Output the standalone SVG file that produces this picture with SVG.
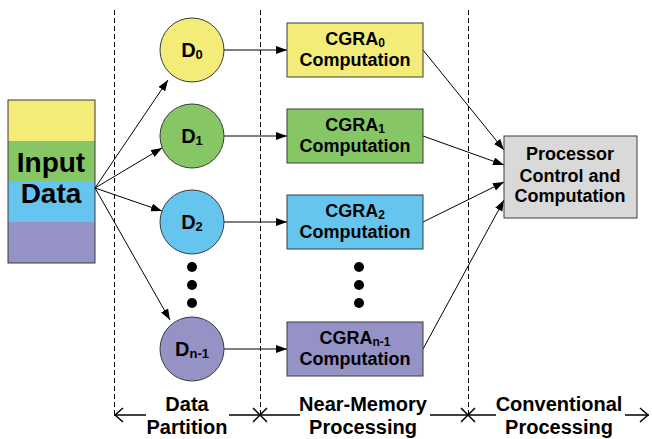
<svg xmlns="http://www.w3.org/2000/svg" width="652" height="439" viewBox="0 0 652 439">
<defs>
<style>
text{font-family:"Liberation Sans",Arial,sans-serif;font-weight:bold;fill:#000;text-anchor:middle}
.lbl{font-size:18px}
.dl{font-size:20px}
.ax{font-size:20px}
.big{font-size:28px}
.sub{font-size:12px}
.dsub{font-size:13px}
.nd{stroke:#3a3a3a;stroke-width:1}
.y{fill:#F3EC78}.g{fill:#86C665}.b{fill:#66C5EE}.p{fill:#9592C6}.gr{fill:#D9D9D9}
.con{stroke:#000;stroke-width:1;fill:none;marker-end:url(#ah)}
.dash{stroke:#000;stroke-width:1;stroke-dasharray:5 3;fill:none}
.axl{stroke:#000;stroke-width:1.5;fill:none}
</style>
<marker id="ah" markerUnits="userSpaceOnUse" markerWidth="12" markerHeight="10" refX="11" refY="4" orient="auto">
<path d="M0,0 L11,4 L0,8 Z" fill="#000"/>
</marker>
</defs>
<rect width="652" height="439" fill="#fff"/>

<g id="dividers">
<line class="dash" x1="114.5" y1="10" x2="114.5" y2="414"/>
<line class="dash" x1="260.5" y1="10" x2="260.5" y2="414"/>
<line class="dash" x1="468.5" y1="10" x2="468.5" y2="414"/>
</g>

<g id="input-data">
<rect x="8" y="100" width="87" height="41" class="y"/>
<rect x="8" y="141" width="87" height="40" class="g"/>
<rect x="8" y="181" width="87" height="41" class="b"/>
<rect x="8" y="222" width="87" height="41" class="p"/>
<rect x="8" y="100" width="87" height="163" fill="none" class="nd"/>
<text class="big" x="51" y="172">Input</text>
<text class="big" x="51" y="203">Data</text>
</g>

<g id="connectors">
<line class="con" x1="95" y1="188" x2="168" y2="80"/>
<line class="con" x1="95" y1="188" x2="162" y2="148"/>
<line class="con" x1="95" y1="188" x2="162" y2="211"/>
<line class="con" x1="95" y1="188" x2="170" y2="320"/>
<line class="con" x1="224" y1="50" x2="287" y2="50"/>
<line class="con" x1="224" y1="136" x2="287" y2="136"/>
<line class="con" x1="224" y1="222" x2="287" y2="222"/>
<line class="con" x1="224" y1="349" x2="287" y2="349"/>
<line class="con" x1="423" y1="50" x2="504" y2="150"/>
<line class="con" x1="423" y1="136" x2="504" y2="165"/>
<line class="con" x1="423" y1="222" x2="504" y2="182"/>
<line class="con" x1="423" y1="349" x2="504" y2="200"/>
</g>

<g id="d0"><circle cx="192" cy="50" r="32" class="nd y"/><text class="dl" x="192" y="57">D<tspan class="dsub" dy="2">0</tspan></text></g>
<g id="d1"><circle cx="192" cy="136" r="32" class="nd g"/><text class="dl" x="192" y="143">D<tspan class="dsub" dy="2">1</tspan></text></g>
<g id="d2"><circle cx="192" cy="222" r="32" class="nd b"/><text class="dl" x="192" y="229">D<tspan class="dsub" dy="2">2</tspan></text></g>
<g id="dn1"><circle cx="192" cy="349" r="32" class="nd p"/><text class="dl" x="192" y="356">D<tspan class="dsub" dy="2">n-1</tspan></text></g>

<g id="dots-d">
<circle cx="192" cy="267" r="5"/><circle cx="192" cy="285" r="5"/><circle cx="192" cy="303" r="5"/>
</g>
<g id="dots-c">
<circle cx="359" cy="267" r="5"/><circle cx="359" cy="285" r="5"/><circle cx="359" cy="303" r="5"/>
</g>

<g id="cgra0"><rect x="287" y="23" width="136" height="54" class="nd y"/><text class="lbl" x="355" y="45">CGRA<tspan class="sub" dy="2">0</tspan></text><text class="lbl" x="355" y="66">Computation</text></g>
<g id="cgra1"><rect x="287" y="109" width="136" height="54" class="nd g"/><text class="lbl" x="355" y="131">CGRA<tspan class="sub" dy="2">1</tspan></text><text class="lbl" x="355" y="152">Computation</text></g>
<g id="cgra2"><rect x="287" y="195" width="136" height="54" class="nd b"/><text class="lbl" x="355" y="217">CGRA<tspan class="sub" dy="2">2</tspan></text><text class="lbl" x="355" y="238">Computation</text></g>
<g id="cgran1"><rect x="287" y="322" width="136" height="54" class="nd p"/><text class="lbl" x="355" y="344">CGRA<tspan class="sub" dy="2">n-1</tspan></text><text class="lbl" x="355" y="365">Computation</text></g>

<g id="processor"><rect x="504" y="136" width="133" height="82" class="nd gr"/>
<text class="lbl" x="570" y="160">Processor</text>
<text class="lbl" x="570" y="182">Control and</text>
<text class="lbl" x="570" y="202">Computation</text></g>

<g id="axis">
<line class="axl" x1="114" y1="415" x2="146" y2="415"/>
<path class="axl" d="M123,408 L115,415 L123,422"/>
<line class="axl" x1="229" y1="415" x2="300" y2="415"/>
<path class="axl" d="M253,408 L267,422 M253,422 L267,408"/>
<line class="axl" x1="430" y1="415" x2="496" y2="415"/>
<path class="axl" d="M461,408 L475,422 M461,422 L475,408"/>
<line class="axl" x1="625" y1="415" x2="649" y2="415"/>
<path class="axl" d="M640,408 L648,415 L640,422"/>
<text class="ax" x="187" y="411">Data</text>
<text class="ax" x="187" y="434">Partition</text>
<text class="ax" x="363" y="411">Near-Memory</text>
<text class="ax" x="363" y="434">Processing</text>
<text class="ax" x="559" y="411">Conventional</text>
<text class="ax" x="559" y="434">Processing</text>
</g>
</svg>
